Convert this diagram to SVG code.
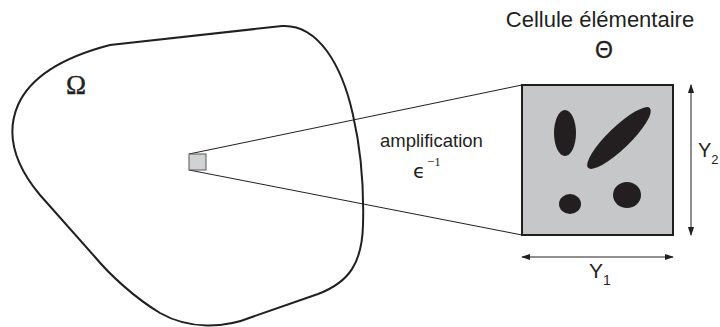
<svg xmlns="http://www.w3.org/2000/svg" width="720" height="327" viewBox="0 0 720 327">
<defs>
<style>
.sans{font-family:"Liberation Sans",Arial,sans-serif;fill:#231f20}
.serif{font-family:"Liberation Serif","DejaVu Serif",serif;fill:#231f20}
.ln{stroke:#231f20;stroke-width:1;fill:none}
.incl{fill:#231f20}
</style>
<marker id="ah" viewBox="0 0 10 10" refX="9" refY="5" markerWidth="9" markerHeight="9" orient="auto-start-reverse" markerUnits="userSpaceOnUse">
<path d="M0,1.5 L10,5 L0,8.5 Z" fill="#231f20"/>
</marker>
</defs>
<rect width="720" height="327" fill="#fff"/>
<g id="domain">
<path d="M 282,26 C 318,24 342,65 353,115 C 361,150 364,190 363,225 C 362,262 350,282 318,294 L 252,317 C 225,328 190,330 160,313 C 135,298 110,275 95,257 L 40,195 C 15,165 5,135 18,105 C 30,78 60,58 110,45 L 282,26 Z" fill="none" stroke="#231f20" stroke-width="2"/>
<text x="66" y="94" class="serif" font-size="27" stroke="#231f20" stroke-width="0.4">Ω</text>
</g>
<g id="connectors">
<line class="ln" x1="189" y1="154" x2="522" y2="85"/>
<line class="ln" x1="189" y1="170" x2="522" y2="235"/>
<line class="ln" x1="691" y1="85" x2="691" y2="235" marker-start="url(#ah)" marker-end="url(#ah)"/>
<line class="ln" x1="522" y1="257" x2="673" y2="257" marker-start="url(#ah)" marker-end="url(#ah)"/>
</g>
<g id="small-cell">
<rect x="189" y="154" width="17" height="16" fill="#d1d2d3" stroke="#555" stroke-width="1"/>
</g>
<g id="amplification">
<text x="380" y="147" class="sans" font-size="18.5">amplification</text>
<text x="413" y="178" font-family="DejaVu Sans,sans-serif" font-size="20" fill="#231f20">ϵ</text>
<text x="427" y="166" class="serif" font-size="13">−1</text>
</g>
<g id="unit-cell">
<text x="600" y="27" class="sans" font-size="22" text-anchor="middle">Cellule élémentaire</text>
<text x="604" y="58" class="sans" font-size="23" text-anchor="middle" stroke="#231f20" stroke-width="0.3">Θ</text>
<rect x="522" y="85" width="151" height="150" fill="#c6c7c8" stroke="#231f20" stroke-width="2"/>
<ellipse class="incl" cx="565" cy="133" rx="11" ry="23"/>
<ellipse class="incl" cx="619" cy="138" rx="43" ry="11" transform="rotate(-44 619 138)"/>
<ellipse class="incl" cx="570" cy="204" rx="11" ry="10"/>
<ellipse class="incl" cx="627" cy="195" rx="14" ry="13"/>
</g>
<g id="dim-labels">
<text x="589" y="278" class="sans" font-size="21">Y<tspan font-size="14" dy="7">1</tspan></text>
<text x="698" y="157" class="sans" font-size="20">Y<tspan font-size="13" dy="7">2</tspan></text>
</g>
</svg>
